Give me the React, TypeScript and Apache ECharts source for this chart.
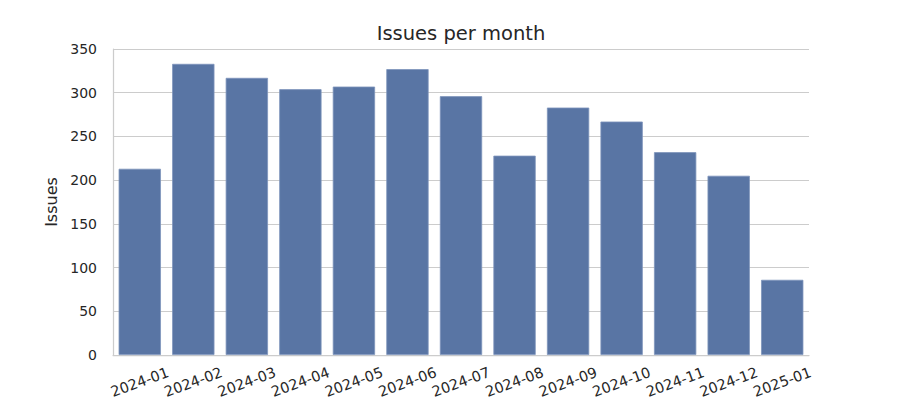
import React, { useEffect, useRef } from "react";
import * as echarts from "echarts";

const months = [
  "2024-01", "2024-02", "2024-03", "2024-04", "2024-05", "2024-06", "2024-07",
  "2024-08", "2024-09", "2024-10", "2024-11", "2024-12", "2025-01",
];
const issues = [213, 333, 317, 304, 307, 327, 296, 228, 283, 267, 232, 205, 86];
const yTicks = { min: 0, max: 350, interval: 50 };

const FONT = "DejaVu Sans";
const TEXT = "#262626";
const GRID = "#cccccc";

export default function App() {
  const ref = useRef<HTMLDivElement>(null);
  useEffect(() => {
    if (!ref.current) return;
    const chart = echarts.init(ref.current, null, { renderer: "svg" });
    chart.setOption({
      animation: false,
      title: {
        text: "Issues per month",
        left: 456,
        top: 18,
        textAlign: "center",
        textStyle: { fontFamily: FONT, fontSize: 19.5, fontWeight: "normal", color: TEXT },
      },
      grid: {
        left: 113,
        right: 91,
        top: 49,
        bottom: 45,
        containLabel: false,
        outerBoundsMode: "none",
      },
      xAxis: {
        type: "category",
        data: months,
        boundaryGap: true,
        axisLine: { show: true, lineStyle: { color: GRID, width: 1.25 } },
        axisTick: { show: false },
        splitLine: { show: false },
        axisLabel: {
          interval: 0,
          rotate: 20,
          align: "center",
          verticalAlign: "middle",
          margin: 27,
          fontFamily: FONT,
          fontSize: 14.5,
          color: TEXT,
          hideOverlap: false,
        },
      },
      yAxis: {
        type: "value",
        min: yTicks.min,
        max: yTicks.max,
        interval: yTicks.interval,
        name: "Issues",
        nameLocation: "middle",
        nameRotate: 90,
        nameGap: 48,
        nameTextStyle: { fontFamily: FONT, fontSize: 16, color: TEXT },
        axisLine: { show: true, lineStyle: { color: GRID, width: 1.25 } },
        axisTick: { show: false },
        splitLine: { show: true, lineStyle: { color: GRID, width: 1 } },
        axisLabel: { margin: 16, fontFamily: FONT, fontSize: 14, color: TEXT },
      },
      series: [
        {
          type: "bar",
          data: issues,
          barCategoryGap: "21%",
          itemStyle: { color: "#5975a4", borderColor: "#7d94bb", borderWidth: 0.8 },
        },
      ],
    });
    return () => chart.dispose();
  }, []);
  return (
    <div
      ref={ref}
      style={{ position: "absolute", left: 0, top: 0, width: 900, height: 400 }}
    />
  );
}
